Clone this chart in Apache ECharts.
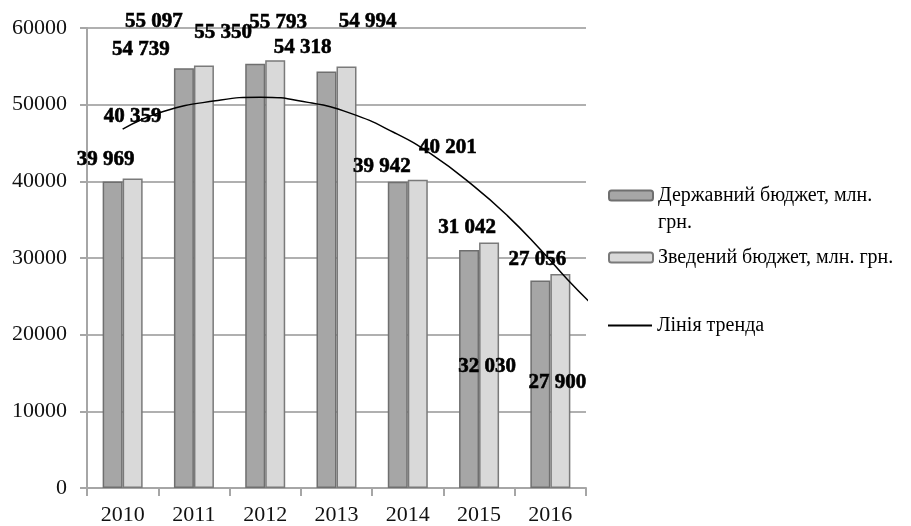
<!DOCTYPE html>
<html>
<head>
<meta charset="utf-8">
<script src="https://cdn.jsdelivr.net/npm/echarts@6/dist/echarts.min.js"></script>
<style>
html,body{margin:0;padding:0;background:#fff;}
#chart{width:911px;height:526px;}
</style>
</head>
<body>
<div id="chart"></div>
<script>
// ---- data ----
const years = ['2010','2011','2012','2013','2014','2015','2016'];
const stateBudget = [39969, 54739, 55350, 54318, 39942, 31042, 27056];
const consolidatedBudget = [40359, 55097, 55793, 54994, 40201, 32030, 27900];
// trend line: [category position, value]
const trendPos = [0, 0.57, 1.3, 1.93, 2.6, 3.19, 3.8, 4.32, 4.93, 5.4, 5.86, 6.24, 6.56];
const trendVal = [46800, 49100, 50500, 50980, 50300, 48900, 46400, 43600, 39350, 35500, 31100, 27200, 24170];
const yTicks = [0, 10000, 20000, 30000, 40000, 50000, 60000];
const seriesNames = ['Державний бюджет, млн. грн.', 'Зведений бюджет, млн. грн.', 'Лінія тренда'];

// ---- layout (label placement relative to each bar's top-left corner) ----
const labelPosState = [[3,-22],[-33,-19],[-22,-31],[-14,-24],[-6,-15],[8,-22],[7,-21]];
const labelPosCons  = [[10,-62],[-40,-44],[13,-38],[31,-45],[40,-32],[8,124],[7,108]];

function fmt(v){ return String(v).replace(/\B(?=(\d{3})+(?!\d))/g, ' '); }

const labelFont = {fontFamily:'Liberation Serif', fontWeight:'bold', fontSize:21, color:'#000',
  textBorderColor:'#000', textBorderWidth:0.6, align:'center', verticalAlign:'middle'};

function barData(vals, pos){
  return vals.map((v,i)=>({value:v, label:Object.assign({show:true, position:pos[i], formatter:fmt(v)}, labelFont)}));
}

const chart = echarts.init(document.getElementById('chart'), null, {renderer:'canvas'});
const legendText = {fontFamily:'Liberation Serif', fontSize:20, color:'#000', lineHeight:27,
  rich:{a:{fontFamily:'Liberation Serif', fontSize:20, color:'#000', lineHeight:27}, pad:{fontSize:20, lineHeight:27}}};
chart.setOption({
  animation:false,
  backgroundColor:'#fff',
  grid:{left:87, right:325, top:28, bottom:37},
  legend:[
    {data:[seriesNames[0]], left:608, top:155, orient:'vertical', padding:0, itemWidth:44, itemHeight:10,
     formatter:function(){ return '{pad| }\n{a|Державний бюджет, млн.}\n{a|грн.}'; },
     textStyle:legendText},
    {data:[seriesNames[1]], left:608, top:244, orient:'vertical', padding:0, itemWidth:44, itemHeight:10, textStyle:legendText},
    {data:[{name:seriesNames[2], icon:'rect'}], left:608, top:312, orient:'vertical', padding:0, itemWidth:44, itemHeight:2,
     itemStyle:{color:'#000', borderWidth:0}, textStyle:legendText}
  ],
  xAxis:[
    {type:'category', data:years, boundaryGap:true,
     axisLine:{lineStyle:{color:'#a6a6a6', width:2}},
     axisTick:{show:true, interval:0, length:8, lineStyle:{color:'#a6a6a6', width:2}},
     axisLabel:{fontFamily:'Liberation Serif', fontSize:22, color:'#111', margin:16},
     splitLine:{show:false}},
    {type:'value', min:-0.5, max:6.5, show:false}
  ],
  yAxis:{type:'value', min:yTicks[0], max:yTicks[yTicks.length-1], interval:10000,
    axisLine:{show:true, onZero:false, lineStyle:{color:'#a6a6a6', width:2}},
    axisTick:{show:true, length:7, lineStyle:{color:'#a6a6a6', width:2}},
    axisLabel:{fontFamily:'Liberation Serif', fontSize:22, color:'#111', margin:20, formatter:function(v){return String(v);}},
    splitLine:{lineStyle:{color:'#b0b0b0', width:2}}},
  series:[
    {name:seriesNames[0], type:'bar', xAxisIndex:0, barWidth:20, barGap:'0%',
     itemStyle:{color:'#a6a6a6', borderColor:'#6f6f6f', borderWidth:1.5},
     data:barData(stateBudget, labelPosState), z:2},
    {name:seriesNames[1], type:'bar', xAxisIndex:0, barWidth:20, barGap:'0%',
     itemStyle:{color:'#d9d9d9', borderColor:'#7a7a7a', borderWidth:1.5},
     data:barData(consolidatedBudget, labelPosCons), z:2},
    {name:seriesNames[2], type:'line', xAxisIndex:1, smooth:true, symbol:'none', showSymbol:false, clip:false,
     lineStyle:{color:'#000', width:1.5}, itemStyle:{color:'#000'},
     data:trendPos.map((p,i)=>[p, trendVal[i]]), z:3}
  ]
});
</script>
</body>
</html>
